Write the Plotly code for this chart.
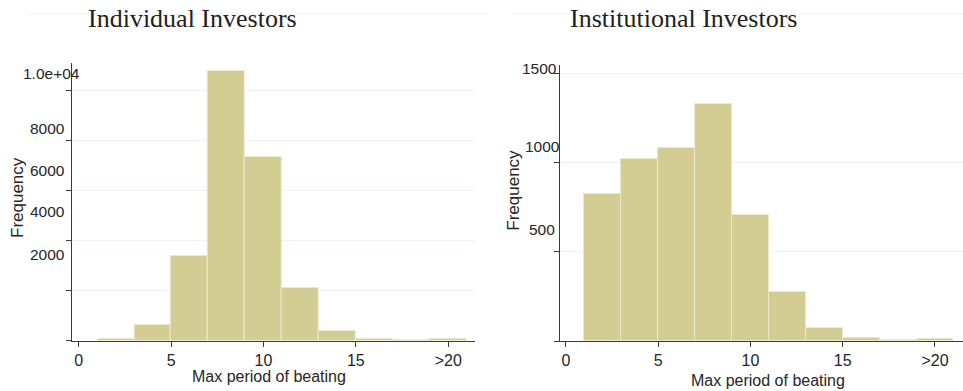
import plotly.graph_objects as go

W, H = 963, 391

# Histogram bins (width 2) and counts per bin
bin_edges = [1, 3, 5, 7, 9, 11, 13, 15, 17, 19, 21]
individual_counts = [80, 620, 3370, 10780, 7340, 2100, 370, 80, 15, 65]
institutional_counts = [821, 1019, 1079, 1325, 704, 274, 75, 15, 4, 11]

x_tick_vals = [0, 5, 10, 15, 20]
x_tick_text = ["0", "5", "10", "15", ">20"]

ind_tick_vals = [2000, 4000, 6000, 8000, 10000]
ind_tick_text = ["2000", "4000", "6000", "8000", "1.0e+04"]
inst_tick_vals = [500, 1000, 1500]
inst_tick_text = ["500", "1000", "1500"]

panel_titles = ["Individual Investors", "Institutional Investors"]
x_title = "Max period of beating"
y_title = "Frequency"

centers = [(a + b) / 2 for a, b in zip(bin_edges[:-1], bin_edges[1:])]
widths = [b - a for a, b in zip(bin_edges[:-1], bin_edges[1:])]

BAR = "#D3CD94"
BAR_EDGE = "#ECE9CB"
AXIS = "#3a3a3a"
GRID = "#EEF4F6"
TXT = "#262626"
SANS = "Liberation Sans, Arial, sans-serif"
SERIF = "Liberation Serif, Times New Roman, serif"


def px_x(p):
    return p / W


def px_y(p):
    return (H - p) / H


fig = go.Figure()
fig.add_trace(go.Bar(x=centers, y=individual_counts, width=widths,
                     marker=dict(color=BAR, line=dict(color=BAR_EDGE, width=1)),
                     xaxis="x", yaxis="y", showlegend=False))
fig.add_trace(go.Bar(x=centers, y=institutional_counts, width=widths,
                     marker=dict(color=BAR, line=dict(color=BAR_EDGE, width=1)),
                     xaxis="x2", yaxis="y2", showlegend=False))

xaxis_common = dict(
    tickvals=x_tick_vals, ticktext=x_tick_text, ticks="outside", ticklen=5,
    tickcolor=AXIS, showline=True, linecolor=AXIS, linewidth=1,
    showgrid=False, zeroline=False,
    tickfont=dict(family=SANS, size=16, color=TXT),
)
yaxis_common = dict(
    ticks="outside", ticklen=5, tickcolor=AXIS, showline=True,
    linecolor=AXIS, linewidth=1, showgrid=True, gridcolor=GRID, gridwidth=1,
    zeroline=False, showticklabels=False,
)

fig.update_layout(
    width=W, height=H, margin=dict(l=0, r=0, t=0, b=0),
    paper_bgcolor="white", plot_bgcolor="white", bargap=0,
    xaxis=dict(domain=[px_x(71.7), px_x(475)], range=[-0.384, 21.45],
               anchor="y", **xaxis_common),
    yaxis=dict(domain=[px_y(340.5), px_y(63)], range=[0, 11092],
               tickvals=[0] + ind_tick_vals, anchor="x", **yaxis_common),
    xaxis2=dict(domain=[px_x(560), 1.0], range=[-0.32, 21.52],
                anchor="y2", **xaxis_common),
    yaxis2=dict(domain=[px_y(341), px_y(65)], range=[0, 1545],
                tickvals=[0] + inst_tick_vals, anchor="x2", **yaxis_common),
)
fig.update_yaxes(showgrid=True)

annotations = []

# y tick labels, set slightly above their tick marks
ind_shift_y = [36, 28.6, 20, 12, 17]
ind_shift_x = [-5, -5, -5, -5, 10]
for v, t, dy, dx in zip(ind_tick_vals, ind_tick_text, ind_shift_y, ind_shift_x):
    annotations.append(dict(x=0, xref="x domain", y=v, yref="y", text=t,
                            showarrow=False, xanchor="right", yanchor="middle",
                            xshift=dx, yshift=dy,
                            font=dict(family=SANS, size=15.5, color=TXT)))
inst_shift_y = [21.7, 15.7, 4.3]
inst_shift_x = [-3, 2, -1]
for v, t, dy, dx in zip(inst_tick_vals, inst_tick_text, inst_shift_y, inst_shift_x):
    annotations.append(dict(x=0, xref="x2 domain", y=v, yref="y2", text=t,
                            showarrow=False, xanchor="right", yanchor="middle",
                            xshift=dx, yshift=dy,
                            font=dict(family=SANS, size=15.5, color=TXT)))

# panel titles
for cx, title in zip([192.8, 683.7], panel_titles):
    annotations.append(dict(x=px_x(cx), y=px_y(19), xref="paper", yref="paper",
                            text=title, showarrow=False, xanchor="center",
                            yanchor="middle",
                            font=dict(family=SERIF, size=26, color="#231F20")))

# axis titles
for cx, cy in [(17, 198), (512.7, 190)]:
    annotations.append(dict(x=px_x(cx), y=px_y(cy), xref="paper", yref="paper",
                            text=y_title, showarrow=False, textangle=-90,
                            xanchor="center", yanchor="middle",
                            font=dict(family=SANS, size=17, color=TXT)))
for cx, cy in [(269, 376.7), (768, 380)]:
    annotations.append(dict(x=px_x(cx), y=px_y(cy), xref="paper", yref="paper",
                            text=x_title, showarrow=False,
                            xanchor="center", yanchor="middle",
                            font=dict(family=SANS, size=16, color=TXT)))

fig.update_layout(annotations=annotations)

# faint rules along the top of each panel
shapes = []
for x0, x1 in [(27, 487), (513, 963)]:
    shapes.append(dict(type="line", xref="paper", yref="paper",
                       x0=px_x(x0), x1=px_x(x1), y0=px_y(14), y1=px_y(14),
                       line=dict(color=GRID, width=1)))
fig.update_layout(shapes=shapes)

fig.write_html("out.html")
